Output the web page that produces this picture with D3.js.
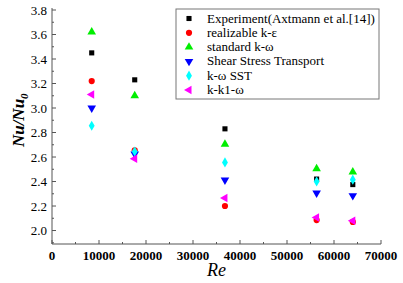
<!DOCTYPE html>
<html>
<head>
<meta charset="utf-8">
<script src="https://cdn.jsdelivr.net/npm/d3@7"></script>
<style>
  body { margin: 0; background: #fff; }
  svg text { font-family: 'Liberation Serif', 'Times New Roman', serif !important; }
</style>
</head>
<body>
<svg id="chart" width="403" height="283"></svg>
<script>
const reynolds = [8450, 17600, 36800, 56300, 64000];
const seriesNames = [
    'Experiment(Axtmann et al.[14])',
    'realizable k-\u03b5',
    'standard k-\u03c9',
    'Shear Stress Transport',
    'k-\u03c9 SST',
    'k-k1-\u03c9'
];
const experiment  = [3.45, 3.23, 2.83, 2.42, 2.375];
const realizable  = [3.22, 2.655, 2.20, 2.085, 2.07];
const standardKw  = [3.62, 3.10, 2.705, 2.505, 2.478];
const sst         = [3.00, 2.625, 2.413, 2.307, 2.285];
const kwSst       = [2.855, 2.645, 2.556, 2.40, 2.415];
const kk1w        = [3.11, 2.586, 2.266, 2.106, 2.08];
const yTicks = [2.0, 2.2, 2.4, 2.6, 2.8, 3.0, 3.2, 3.4, 3.6, 3.8];
const xTicks = [0, 10000, 20000, 30000, 40000, 50000, 60000, 70000];

const allSeries = [experiment, realizable, standardKw, sst, kwSst, kk1w];
const colors  = ['#000000', '#ff0000', '#00ee00', '#0000ff', '#00ffff', '#ff00ff'];
const symbols = [
    { type: d3.symbolSquare,   size: 26, rot: 0 },
    { type: d3.symbolCircle,   size: 30, rot: 0 },
    { type: d3.symbolTriangle, size: 32, rot: 0 },
    { type: d3.symbolTriangle, size: 32, rot: 180 },
    { type: d3.symbolDiamond,  size: 30, rot: 0 },
    { type: d3.symbolTriangle, size: 32, rot: -90 }
];
const SERIF = 'Liberation Serif';

const svg = d3.select('#chart');
const x = d3.scaleLinear().domain([0, 70000]).range([52, 381]);
const y = d3.scaleLinear().domain([1.89, 3.8]).range([244, 10]);

// y axis, ticks pointing inward
const yAx = svg.append('g').attr('transform', `translate(${x(0)},0)`);
yAx.append('line').attr('x1', 0).attr('x2', 0).attr('y1', y.range()[0]).attr('y2', 8)
    .attr('stroke', '#555').attr('stroke-width', 1);
yAx.selectAll('.ymin').data(d3.range(1.9, 3.81, 0.1)).join('line')
    .attr('x1', 0).attr('x2', d => yTicks.some(t => Math.abs(t - d) < 1e-6) ? 4 : 2)
    .attr('y1', d => y(d)).attr('y2', d => y(d))
    .attr('stroke', '#555');
yAx.selectAll('.yl').data(yTicks).join('text')
    .attr('x', -5).attr('y', d => y(d) + 4.5)
    .attr('text-anchor', 'end').attr('font-family', SERIF).attr('font-size', 13)
    .attr('fill', '#000')
    .text(d => d.toFixed(1));

// x axis, ticks pointing inward
const xAx = svg.append('g').attr('transform', `translate(0,${y.range()[0]})`);
xAx.append('line').attr('x1', x(0)).attr('x2', x(70000)).attr('y1', 0).attr('y2', 0)
    .attr('stroke', '#555');
xAx.selectAll('.xmin').data(d3.range(0, 70001, 5000)).join('line')
    .attr('x1', d => x(d)).attr('x2', d => x(d))
    .attr('y1', 0).attr('y2', d => d % 10000 === 0 ? -4 : -2)
    .attr('stroke', '#555');
xAx.selectAll('.xl').data(xTicks).join('text')
    .attr('x', d => x(d)).attr('y', 16)
    .attr('text-anchor', 'middle').attr('font-family', SERIF).attr('font-size', 13)
    .attr('font-weight', 'bold').attr('fill', '#000')
    .text(d => d);

// axis titles
svg.append('text')
    .attr('x', (x(0) + x(70000)) / 2).attr('y', 276)
    .attr('text-anchor', 'middle').attr('font-family', SERIF).attr('font-size', 18)
    .attr('font-style', 'italic').attr('fill', '#000')
    .text('Re');
const yTitle = svg.append('text')
    .attr('transform', `translate(24,${y(2.9)}) rotate(-90)`)
    .attr('text-anchor', 'middle').attr('font-family', SERIF).attr('font-size', 17)
    .attr('font-style', 'italic').attr('font-weight', 'bold').attr('fill', '#000');
yTitle.append('tspan').text('Nu/Nu');
yTitle.append('tspan').attr('font-size', 11).attr('dy', 4).text('0');

// points
const sym = (i) => d3.symbol().type(symbols[i].type).size(symbols[i].size)();
allSeries.forEach((vals, i) => {
    svg.append('g').selectAll('path')
        .data(vals.map((v, j) => ({ re: reynolds[j], v })))
        .join('path')
        .attr('d', sym(i))
        .attr('transform', d => `translate(${x(d.re)},${y(d.v)}) rotate(${symbols[i].rot})`)
        .attr('fill', colors[i]);
});

// legend
const lg = svg.append('g');
lg.append('rect').attr('x', 176).attr('y', 9).attr('width', 203).attr('height', 90)
    .attr('fill', '#fff').attr('stroke', '#777').attr('stroke-width', 1);
seriesNames.forEach((name, i) => {
    const ly = 18.5 + i * 14.3;
    lg.append('path').attr('d', sym(i))
        .attr('transform', `translate(189,${ly}) rotate(${symbols[i].rot})`)
        .attr('fill', colors[i]);
    lg.append('text').attr('x', 207).attr('y', ly + 4)
        .attr('font-family', SERIF).attr('font-size', 13).attr('fill', '#000')
        .text(name);
});
</script>
</body>
</html>
